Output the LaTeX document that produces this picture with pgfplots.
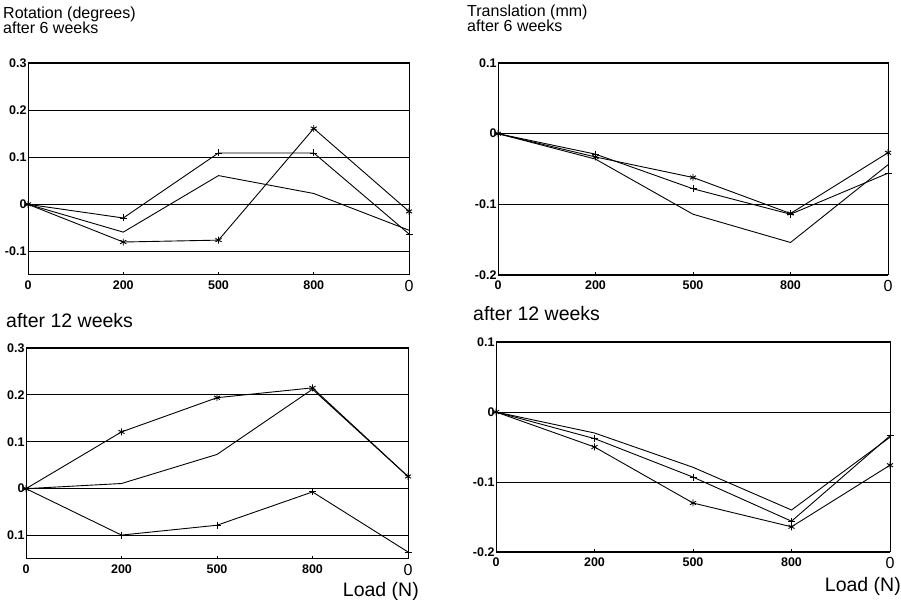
\documentclass[border=0pt]{standalone}
\usepackage{pgfplots}
\pgfplotsset{compat=1.18}
\usepackage{fontspec}
\setmainfont{Liberation Sans}

% one px of the reference = 1pt
\newcommand{\titlefont}{\fontsize{16}{15}\selectfont}
\newcommand{\subfont}{\fontsize{19.5}{20}\selectfont}

\pgfplotsset{
  panel/.style={
    anchor=north west,
    scale only axis,
    xmin=0, xmax=4,
    xtick={0,1,2,3,4},
    xticklabels={0,200,500,800,{\mdseries\fontsize{16}{16}\selectfont 0}},
    xtick pos=bottom,
    tick align=inside,
    major tick length=3pt,
    ytick style={draw=none},
    ymajorgrids,
    grid style={black, line width=0.9pt},
    axis line style={black, line width=1pt},
    tick style={black, line width=0.8pt},
    tick label style={font=\bfseries\fontsize{12.5}{13}\selectfont},
    xticklabel style={yshift=-2pt},
    yticklabel style={xshift=2pt},
    every axis plot/.append style={black, line width=0.9pt, mark options={solid, line width=0.9pt}},
    clip=false,
  },
  rot/.style={ymin=-0.15, ymax=0.3, ytick={-0.1,0,0.1,0.2,0.3}},
  tra/.style={ymin=-0.2, ymax=0.1, ytick={-0.2,-0.1,0,0.1}, yticklabels={-0.2,-0.1,0,0.1}},
}

\begin{document}
\begin{tikzpicture}
\useasboundingbox (0pt,0pt) rectangle (901pt,602pt);

% titles
\node[anchor=north west, inner sep=0pt, align=left, font=\titlefont] at (3pt,595pt) {Rotation (degrees)\\after 6 weeks};
\node[anchor=north west, inner sep=0pt, align=left, font=\titlefont] at (467pt,597pt) {Translation (mm)\\after 6 weeks};
\node[anchor=north west, inner sep=0pt, font=\subfont] at (6pt,289pt) {after 12 weeks};
\node[anchor=north west, inner sep=0pt, font=\subfont] at (473pt,296pt) {after 12 weeks};
\node[anchor=north east, inner sep=0pt, font=\fontsize{19.5}{20}\selectfont] at (419pt,20pt) {Load (N)};
\node[anchor=north east, inner sep=0pt, font=\fontsize{19.5}{20}\selectfont] at (901pt,25pt) {Load (N)};

% top left: rotation, 6 weeks
\begin{axis}[panel, rot, at={(28pt,539pt)}, width=381pt, height=212pt,
  yticklabels={-0.1,0,0.1,0.2,0.3}]
\addplot[mark=+, mark size=3.5pt] coordinates {(0,0) (1,-0.029) (2,0.109) (3,0.109) (4,-0.063)};
\addplot[mark=none] coordinates {(0,0) (1,-0.059) (2,0.061) (3,0.023) (4,-0.055)};
\addplot[mark=asterisk, mark size=3.5pt] coordinates {(0,0) (1,-0.080) (2,-0.076) (3,0.161) (4,-0.015)};
\end{axis}

% top right: translation, 6 weeks
\begin{axis}[panel, tra, at={(498pt,539pt)}, width=390pt, height=212pt]
\addplot[mark=asterisk, mark size=3.5pt] coordinates {(0,0) (1,-0.033) (2,-0.062) (3,-0.113) (4,-0.027)};
\addplot[mark=+, mark size=3.5pt] coordinates {(0,0) (1,-0.029) (2,-0.078) (3,-0.114) (4,-0.056)};
\addplot[mark=none] coordinates {(0,0) (1,-0.036) (2,-0.114) (3,-0.154) (4,-0.044)};
\end{axis}

% bottom left: rotation, 12 weeks
\begin{axis}[panel, rot, at={(26pt,254pt)}, width=382pt, height=211pt,
  yticklabels={0.1,0,0.1,0.2,0.3}]
\addplot[mark=asterisk, mark size=3.5pt] coordinates {(0,0) (1,0.121) (2,0.194) (3,0.215) (4,0.026)};
\addplot[mark=none] coordinates {(0,0) (1,0.011) (2,0.073) (3,0.212) (4,0.026)};
\addplot[mark=+, mark size=3.5pt] coordinates {(0,0) (1,-0.099) (2,-0.078) (3,-0.007) (4,-0.135)};
\end{axis}

% bottom right: translation, 12 weeks
\begin{axis}[panel, tra, at={(496pt,260pt)}, width=394pt, height=210pt]
\addplot[mark=none] coordinates {(0,0) (1,-0.030) (2,-0.079) (3,-0.140) (4,-0.036)};
\addplot[mark=+, mark size=3.5pt] coordinates {(0,0) (1,-0.038) (2,-0.093) (3,-0.156) (4,-0.034)};
\addplot[mark=asterisk, mark size=3.5pt] coordinates {(0,0) (1,-0.050) (2,-0.130) (3,-0.164) (4,-0.076)};
\end{axis}
\end{tikzpicture}
\end{document}
